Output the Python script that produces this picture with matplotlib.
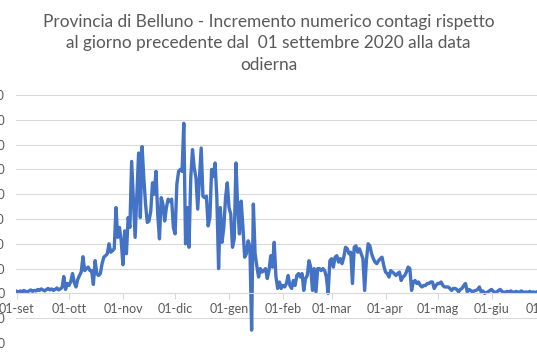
"""Belluno - incremento giornaliero contagi"""

import pandas as pd
import matplotlib.pyplot as plt
import matplotlib.dates as mdates
from matplotlib.ticker import FuncFormatter, MultipleLocator

plt.rcParams["font.family"] = ["Lato", "DejaVu Sans"]

# daily increments, one list per month
settembre = [4, 2, 5, 3, 6, 4, 3, 5, 7, 4, 6, 5, 8, 6, 9, 7, 5, 8, 10, 7,
             9, 6, 8, 11, 7, 9, 12, 34, 8, 20]
ottobre = [16, 24, 40, 22, 13, 28, 36, 43, 74, 46, 50, 53, 46, 46, 18, 66, 40, 36, 40, 60,
           73, 76, 80, 100, 83, 86, 90, 173, 113, 133, 106]
novembre = [58, 126, 80, 153, 133, 266, 190, 113, 200, 283, 153, 296, 233, 180, 143, 146,
            166, 223, 200, 246, 160, 110, 193, 180, 146, 173, 190, 185, 190, 133]
dicembre = [120, 220, 246, 250, 246, 343, 100, 173, 93, 233, 290, 253, 233, 170, 233, 293,
            196, 193, 196, 136, 153, 250, 236, 263, 193, 50, 173, 103, 133, 193, 223]
gennaio = [173, 160, 93, 110, 263, 173, 120, 186, 133, 73, 80, 106, 95, -74, 180, 80, 55,
           33, 50, 43, 46, 50, 30, 46, 76, 53, 103, 33, 10, 23, 10]
febbraio = [16, 13, 20, 36, 16, 10, 26, 16, 36, 40, 33, 40, 6, 30, 36, 66, 53, 6, 50, 3,
            50, 50, 46, 50, 46, 33, 0, 66]
marzo = [70, 53, 73, 76, 63, 70, 60, 73, 93, 90, 80, 83, 20, 93, 96, 83, 90, 80, 70, 6,
         66, 100, 96, 80, 70, 63, 60, 66, 70, 73, 56]
aprile = [43, 40, 33, 46, 43, 40, 36, 40, 43, 26, 33, 36, 43, 53, 50, 6, 23, 26, 20, 23,
          16, 13, 16, 16, 20, 20, 23, 23, 10, 16]
maggio = [20, 20, 23, 16, 13, 13, 13, 10, 6, 10, 10, 8, 3, 8, 10, 16, 20, 3, 8, 6,
          3, 5, 6, 8, 13, 3, 5, 0, 2, 3, 6]
giugno = [8, 4, 2, 3, 6, 8, 4, 2, 3, 4, 2, 5, 3, 2, 4, 3, 2, 5, 3, 2, 3, 2, 4, 2, 3, 2, 3]

mesi = ["gen", "feb", "mar", "apr", "mag", "giu", "lug", "ago", "set", "ott", "nov", "dic"]

title = ("Provincia di Belluno - Incremento numerico contagi rispetto\n"
         "al giorno precedente dal  01 settembre 2020 alla data\n"
         "odierna")

daily = settembre + ottobre + novembre + dicembre + gennaio + febbraio + marzo + aprile + maggio + giugno
dates = pd.date_range("2020-09-01", periods=len(daily))

fig = plt.figure(figsize=(5.37, 3.58), dpi=100)
# plot area runs past the right edge, like the cropped original
ax = fig.add_axes([16 / 537, 15 / 358, 543.4 / 537, 248 / 358])
ax.plot(dates, daily, color="#4472C4", lw=2.4, solid_joinstyle="round")

ax.set_xlim(pd.Timestamp("2020-08-31 12:00"), pd.Timestamp("2021-07-10"))
ax.set_ylim(-100, 400)
ax.yaxis.set_major_locator(MultipleLocator(50))
ax.grid(axis="y", color="#d9d9d9", lw=0.75)
ax.set_axisbelow(True)

for s in ["top", "right", "left"]:
    ax.spines[s].set_visible(False)
ax.spines["bottom"].set_position(("data", 0))
ax.spines["bottom"].set_color("#d9d9d9")

ax.xaxis.set_major_locator(mdates.MonthLocator())
ax.xaxis.set_major_formatter(
    FuncFormatter(lambda v, pos: "01-" + mesi[mdates.num2date(v).month - 1]))
ax.tick_params(axis="x", length=4, color="#d9d9d9", pad=3, labelsize=9, labelcolor="#595959")
ax.tick_params(axis="y", length=0, pad=8, labelsize=9, labelcolor="#595959")

fig.text(0.5, 1 - 14 / 358, title, ha="center", va="top", fontsize=12.4,
         color="#595959", linespacing=1.42)

fig.savefig("out.png", dpi=100)
